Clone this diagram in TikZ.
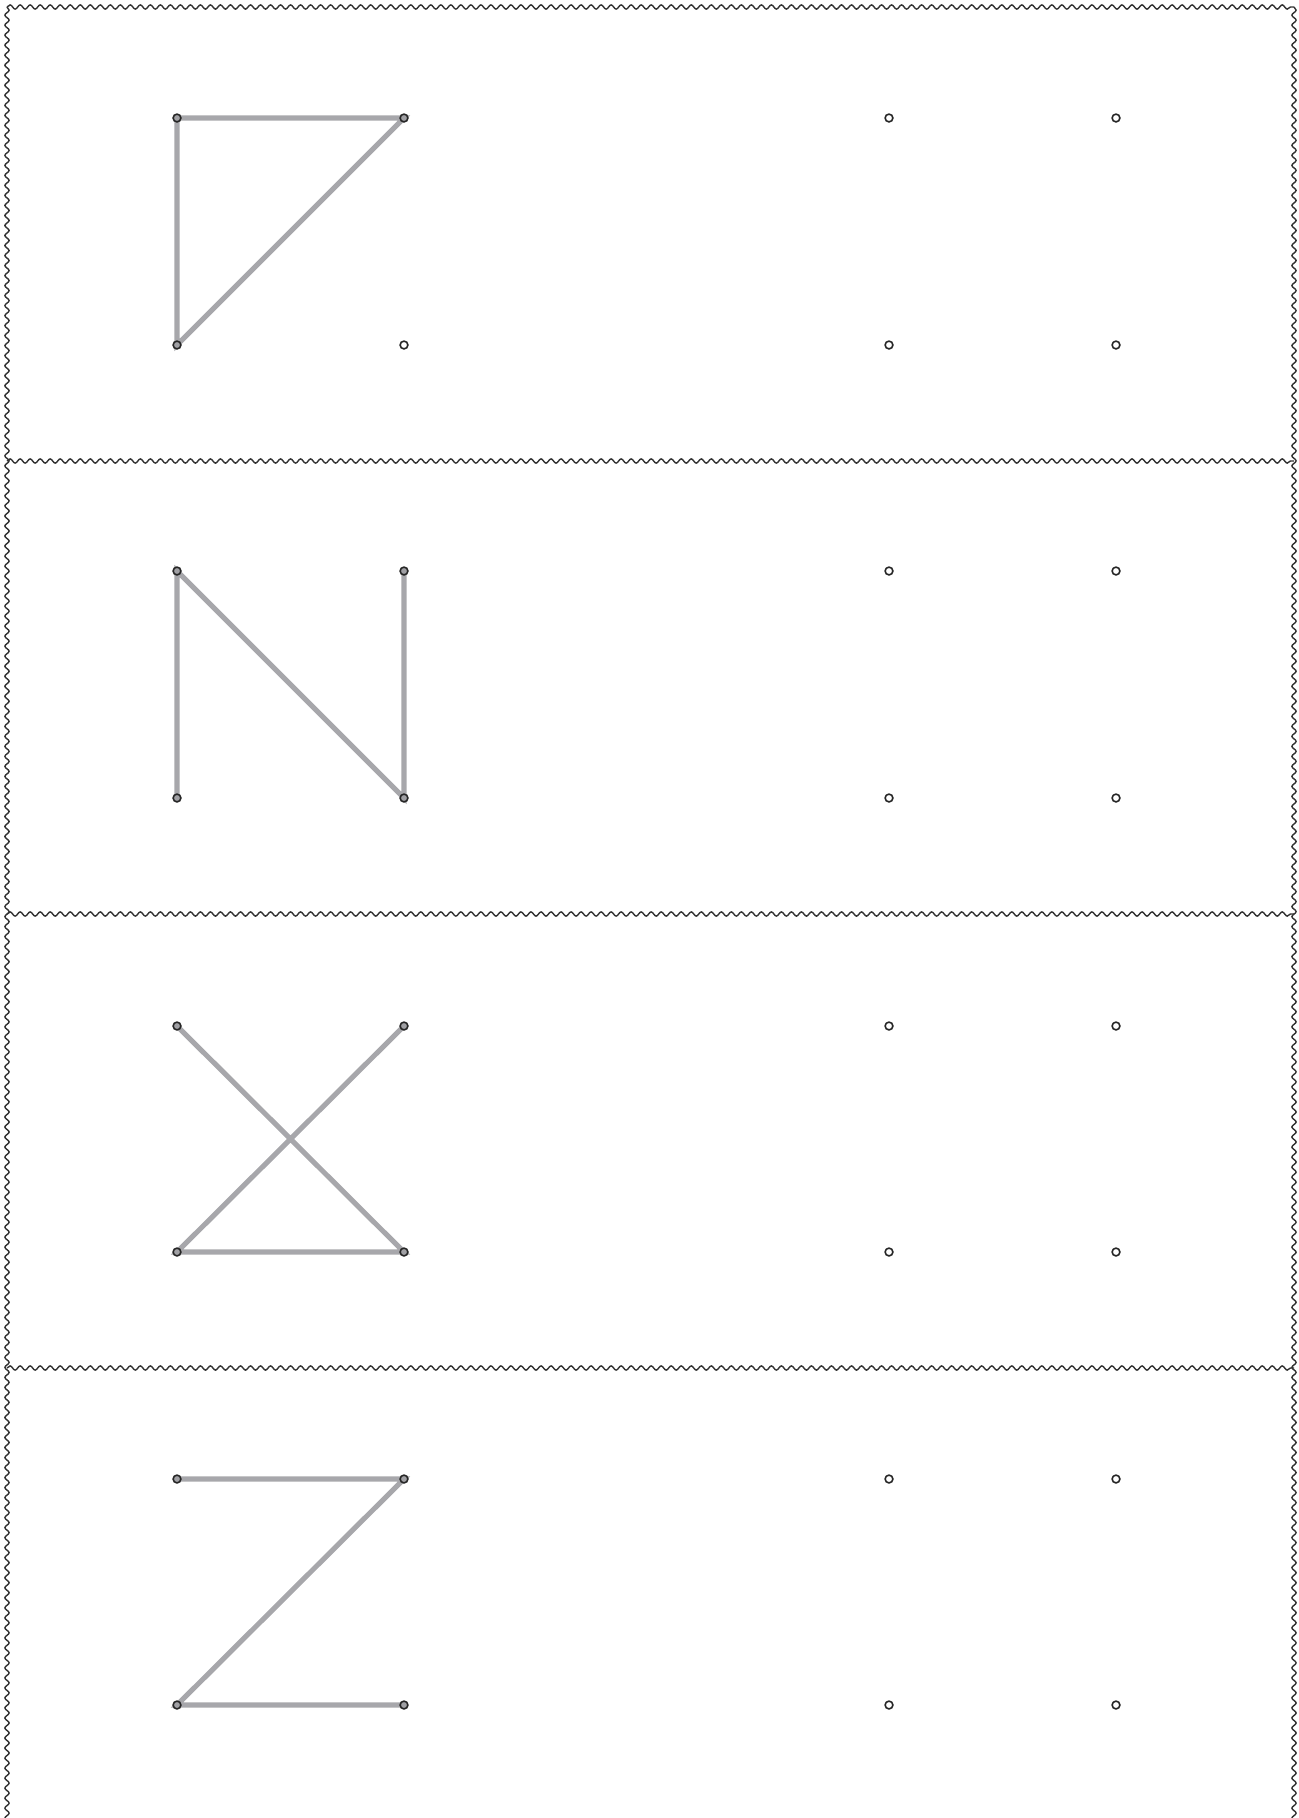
\documentclass[tikz,border=0pt]{standalone}
\usetikzlibrary{decorations.pathmorphing,backgrounds}
\definecolor{edgegray}{HTML}{A7A7AB}
\definecolor{dotgray}{HTML}{A0A0A4}
\begin{document}
\begin{tikzpicture}[
    dot/.style={
        draw=black!85,
        circle,
        fill=white,
        line width=0.45pt,
        inner sep=0pt,
        minimum size=0.78mm
    },
    used/.style={dot, fill=dotgray},
    edge/.style={draw=edgegray, line width=1.45pt},
    wavy/.style={
        draw=black!80,
        line width=0.4pt,
        decorate,
        decoration={snake, segment length=2.85pt, amplitude=0.6pt}
    }
]
\useasboundingbox (0,0) rectangle (12.98,-18.18);

% ===== Frame =====
\draw[wavy] (0.07,-0.07) -- (12.94,-0.07);
\draw[wavy] (0.07,-0.07) -- (0.07,-18.25);
\draw[wavy] (12.94,-0.07) -- (12.94,-18.25);
\draw[wavy] (0.07,-4.61) -- (12.94,-4.61);
\draw[wavy] (0.07,-9.14) -- (12.94,-9.14);
\draw[wavy] (0.07,-13.68) -- (12.94,-13.68);

% ===== Panel 1 =====
\node[used] (a1) at (1.77,-1.18) {};
\node[used] (b1) at (4.04,-1.18) {};
\node[used] (c1) at (1.77,-3.45) {};
\node[dot]  (d1) at (4.04,-3.45) {};
\node[dot] (e1) at (8.89,-1.18) {};
\node[dot] (f1) at (11.16,-1.18) {};
\node[dot] (g1) at (8.89,-3.45) {};
\node[dot] (h1) at (11.16,-3.45) {};

% ===== Panel 2 =====
\node[used] (a2) at (1.77,-5.71) {};
\node[used] (b2) at (4.04,-5.71) {};
\node[used] (c2) at (1.77,-7.98) {};
\node[used] (d2) at (4.04,-7.98) {};
\node[dot] (e2) at (8.89,-5.71) {};
\node[dot] (f2) at (11.16,-5.71) {};
\node[dot] (g2) at (8.89,-7.98) {};
\node[dot] (h2) at (11.16,-7.98) {};

% ===== Panel 3 =====
\node[used] (a3) at (1.77,-10.26) {};
\node[used] (b3) at (4.04,-10.26) {};
\node[used] (c3) at (1.77,-12.52) {};
\node[used] (d3) at (4.04,-12.52) {};
\node[dot] (e3) at (8.89,-10.26) {};
\node[dot] (f3) at (11.16,-10.26) {};
\node[dot] (g3) at (8.89,-12.52) {};
\node[dot] (h3) at (11.16,-12.52) {};

% ===== Panel 4 =====
\node[used] (a4) at (1.77,-14.79) {};
\node[used] (b4) at (4.04,-14.79) {};
\node[used] (c4) at (1.77,-17.05) {};
\node[used] (d4) at (4.04,-17.05) {};
\node[dot] (e4) at (8.89,-14.79) {};
\node[dot] (f4) at (11.16,-14.79) {};
\node[dot] (g4) at (8.89,-17.05) {};
\node[dot] (h4) at (11.16,-17.05) {};

% ===== Edges =====
\begin{scope}[on background layer]
\draw[edge] (a1.center) -- (b1.center) -- (c1.center) -- cycle;
\draw[edge] (c2.center) -- (a2.center) -- (d2.center) -- (b2.center);
\draw[edge] (a3.center) -- (d3.center) -- (c3.center) -- (b3.center);
\draw[edge] (a4.center) -- (b4.center) -- (c4.center) -- (d4.center);
\end{scope}

\end{tikzpicture}
\end{document}
